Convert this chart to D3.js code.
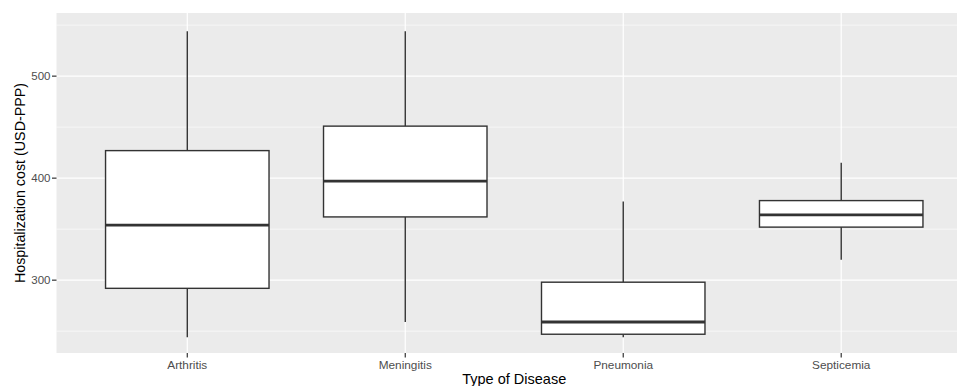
<!DOCTYPE html>
<html><head><meta charset="utf-8">
<script src="https://cdn.jsdelivr.net/npm/d3@7"></script>
<style>body{margin:0;background:#fff;} text{font-family:"Liberation Sans",Arial,sans-serif;}</style>
</head><body>
<svg id="c" width="957" height="386"></svg>
<script>
const categories = ["Arthritis","Meningitis","Pneumonia","Septicemia"];
const whiskerLow  = [244, 259, 244, 320];
const q1          = [292, 362, 247, 352];
const median      = [354, 397, 259, 364];
const q3          = [427, 451, 298, 378];
const whiskerHigh = [544, 544, 377, 415];
const yTicks = [300, 400, 500];
const yMinor = [250, 350, 450, 550];

const svg = d3.select("#c");
const L = 56.5, R = 972, T = 13, B = 353;
const y = d3.scaleLinear().domain([228.6, 561.9]).range([B, T]);
const xUnit = d3.scaleLinear().domain([0.4, 4.6]).range([L, R]);
const x = (i) => xUnit(i + 1);
const unitW = xUnit(2) - xUnit(1);

svg.append("rect").attr("x", L).attr("y", T).attr("width", R - L).attr("height", B - T).attr("fill", "#EBEBEB");

const g = svg.append("g");
g.selectAll(".minor").data(yMinor).join("line")
  .attr("x1", L).attr("x2", R).attr("y1", d => y(d)).attr("y2", d => y(d))
  .attr("stroke", "#fff").attr("stroke-width", 0.6);
g.selectAll(".major").data(yTicks).join("line")
  .attr("x1", L).attr("x2", R).attr("y1", d => y(d)).attr("y2", d => y(d))
  .attr("stroke", "#fff").attr("stroke-width", 1.2);
g.selectAll(".vmaj").data(categories).join("line")
  .attr("x1", (d, i) => x(i)).attr("x2", (d, i) => x(i)).attr("y1", T).attr("y2", B)
  .attr("stroke", "#fff").attr("stroke-width", 1.2);

const data = categories.map((c, i) => ({c, i, lo: whiskerLow[i], q1: q1[i], med: median[i], q3: q3[i], hi: whiskerHigh[i]}));
const bw = unitW * 0.75;
const boxes = svg.append("g").selectAll("g").data(data).join("g");
boxes.append("line").attr("x1", d => x(d.i)).attr("x2", d => x(d.i))
  .attr("y1", d => y(d.hi)).attr("y2", d => y(d.q3)).attr("stroke", "#333").attr("stroke-width", 1.4);
boxes.append("line").attr("x1", d => x(d.i)).attr("x2", d => x(d.i))
  .attr("y1", d => y(d.q1)).attr("y2", d => y(d.lo)).attr("stroke", "#333").attr("stroke-width", 1.4);
boxes.append("rect").attr("x", d => x(d.i) - bw / 2).attr("width", bw)
  .attr("y", d => y(d.q3)).attr("height", d => y(d.q1) - y(d.q3))
  .attr("fill", "#fff").attr("stroke", "#333").attr("stroke-width", 1.4);
boxes.append("line").attr("x1", d => x(d.i) - bw / 2).attr("x2", d => x(d.i) + bw / 2)
  .attr("y1", d => y(d.med)).attr("y2", d => y(d.med)).attr("stroke", "#333").attr("stroke-width", 2.8);

// y axis
const ya = svg.append("g");
ya.selectAll("line").data(yTicks).join("line")
  .attr("x1", L - 4.5).attr("x2", L).attr("y1", d => y(d)).attr("y2", d => y(d))
  .attr("stroke", "#333").attr("stroke-width", 1.2);
ya.selectAll("text").data(yTicks).join("text")
  .attr("x", L - 6).attr("y", d => y(d)).attr("dy", "0.35em").attr("text-anchor", "end")
  .attr("fill", "#4D4D4D").attr("font-size", 11.5).text(d => d);

// x axis
const xa = svg.append("g");
xa.selectAll("line").data(categories).join("line")
  .attr("x1", (d, i) => x(i)).attr("x2", (d, i) => x(i)).attr("y1", B).attr("y2", B + 4.5)
  .attr("stroke", "#333").attr("stroke-width", 1.2);
xa.selectAll("text").data(categories).join("text")
  .attr("x", (d, i) => x(i)).attr("y", B + 16).attr("text-anchor", "middle")
  .attr("fill", "#4D4D4D").attr("font-size", 11.8).text(d => d);

svg.append("text").attr("x", (L + R) / 2).attr("y", B + 30.5).attr("text-anchor", "middle")
  .attr("fill", "#000").attr("font-size", 14.5).text("Type of Disease");
svg.append("text").attr("transform", `translate(24.5,${(T + B) / 2}) rotate(-90)`)
  .attr("text-anchor", "middle").attr("fill", "#000").attr("font-size", 14.3)
  .text("Hospitalization cost (USD-PPP)");
</script>
</body></html>
